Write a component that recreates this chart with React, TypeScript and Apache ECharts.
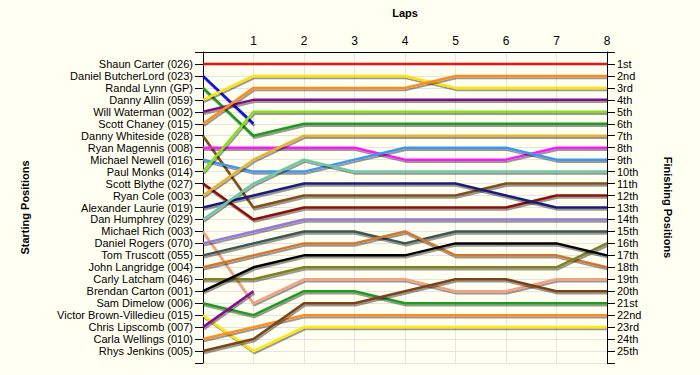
import React, { useEffect, useRef } from "react";
import * as echarts from "echarts";

const laps = [0, 1, 2, 3, 4, 5, 6, 7, 8];
const lapTickLabels = ["", "1", "2", "3", "4", "5", "6", "7", "8"];

const drivers = [
  "Shaun Carter (026)",
  "Daniel ButcherLord (023)",
  "Randal Lynn (GP)",
  "Danny Allin (059)",
  "Will Waterman (002)",
  "Scott Chaney (015)",
  "Danny Whiteside (028)",
  "Ryan Magennis (008)",
  "Michael Newell (016)",
  "Paul Monks (014)",
  "Scott Blythe (027)",
  "Ryan Cole (003)",
  "Alexander Laurie (019)",
  "Dan Humphrey (029)",
  "Michael Rich (003)",
  "Daniel Rogers (070)",
  "Tom Truscott (055)",
  "John Langridge (004)",
  "Carly Latcham (046)",
  "Brendan Carton (001)",
  "Sam Dimelow (006)",
  "Victor Brown-Villedieu (015)",
  "Chris Lipscomb (007)",
  "Carla Wellings (010)",
  "Rhys Jenkins (005)",
];

const finishLabels = [
  "1st", "2nd", "3rd", "4th", "5th", "6th", "7th", "8th", "9th", "10th",
  "11th", "12th", "13th", "14th", "15th", "16th", "17th", "18th", "19th", "20th",
  "21st", "22nd", "23rd", "24th", "25th",
];

// position of each driver at lap 0..n (retired drivers have fewer entries)
const positions: number[][] = [
  [1, 1, 1, 1, 1, 1, 1, 1, 1],
  [2, 6],
  [3, 7, 6, 6, 6, 6, 6, 6, 6],
  [4, 2, 2, 2, 2, 3, 3, 3, 3],
  [5, 4, 4, 4, 4, 4, 4, 4, 4],
  [6, 3, 3, 3, 3, 2, 2, 2, 2],
  [7, 13, 12, 12, 12, 12, 11, 11, 11],
  [8, 8, 8, 8, 9, 9, 9, 8, 8],
  [9, 10, 10, 9, 8, 8, 8, 9, 9],
  [10, 5, 5, 5, 5, 5, 5, 5, 5],
  [11, 14, 13, 13, 13, 13, 13, 12, 12],
  [12, 9, 7, 7, 7, 7, 7, 7, 7],
  [13, 12, 11, 11, 11, 11, 12, 13, 13],
  [14, 11, 9, 10, 10, 10, 10, 10, 10],
  [15, 21, 19, 19, 19, 20, 20, 19, 19],
  [16, 15, 14, 14, 14, 14, 14, 14, 14],
  [17, 16, 15, 15, 16, 15, 15, 15, 15],
  [18, 17, 16, 16, 15, 17, 17, 17, 18],
  [19, 19, 18, 18, 18, 18, 18, 18, 16],
  [20, 18, 17, 17, 17, 16, 16, 16, 17],
  [21, 22, 20, 20, 21, 21, 21, 21, 21],
  [22, 25, 23, 23, 23, 23, 23, 23, 23],
  [23, 20],
  [24, 23, 22, 22, 22, 22, 22, 22, 22],
  [25, 24, 21, 21, 20, 19, 19, 20, 20],
];

const colors = [
  "#EE1111", "#0A0AE6", "#1E9B1E", "#FFE10A", "#7F0F86",
  "#FF8A1C", "#80501A", "#FF14FF", "#3C96F0", "#86E01A",
  "#8E0A0A", "#E6B432", "#1E1E78", "#6CC8A8", "#F5A080",
  "#9678D8", "#3A5550", "#D2742E", "#80801E", "#000000",
  "#1E9B1E", "#FFE80A", "#800A90", "#FF8C1E", "#7A4214",
];

const FONT = "'Liberation Sans', Arial, sans-serif";

export default function App() {
  const ref = useRef<HTMLDivElement>(null);

  useEffect(() => {
    if (!ref.current) return;
    const chart = echarts.init(ref.current, undefined, { renderer: "svg" });

    const series = positions.map((p, i) => {
      // a perfectly flat line has a zero-height box, and an SVG filter (shadow) would hide it
      const flat = p.every((v) => v === p[0]);
      return {
        type: "line",
        name: drivers[i],
        data: p.map((pos, k) => [laps[k], pos]),
        symbol: "none",
        silent: true,
        lineStyle: flat
          ? { color: colors[i], width: 2.5 }
          : {
              color: colors[i],
              width: 2.5,
              shadowColor: "rgba(0,0,0,0.4)",
              shadowOffsetX: 1,
              shadowOffsetY: 2,
              shadowBlur: 1,
            },
        z: 3,
      };
    });

    const labelStyle = { fontFamily: FONT, fontSize: 11, lineHeight: 11, color: "#000" };

    chart.setOption({
      animation: false,
      backgroundColor: "#FFFFF2",
      grid: { left: 203, right: 93, top: 52, bottom: 12 },
      xAxis: {
        type: "value",
        position: "top",
        min: 0,
        max: 8,
        interval: 1,
        name: "Laps",
        nameLocation: "middle",
        nameGap: 34,
        nameTextStyle: { fontFamily: FONT, fontSize: 11, fontWeight: "bold", color: "#000" },
        axisLine: { show: true, lineStyle: { color: "#000", width: 1 } },
        axisTick: { show: false },
        axisLabel: {
          ...labelStyle,
          fontSize: 12,
          lineHeight: 12,
          margin: 5,
          formatter: (v: number) => lapTickLabels[v] ?? "",
        },
        splitLine: { show: true, lineStyle: { color: "#E4E4E4", width: 1 } },
      },
      yAxis: [
        {
          type: "value",
          position: "left",
          inverse: true,
          min: 0,
          max: 26,
          interval: 1,
          name: "Starting Positions",
          nameLocation: "middle",
          nameGap: 173,
          nameRotate: 90,
          nameTextStyle: { fontFamily: FONT, fontSize: 11, fontWeight: "bold", color: "#000" },
          axisLine: { show: true, lineStyle: { color: "#000", width: 1 } },
          axisTick: { show: true, length: 8, lineStyle: { color: "#000" } },
          axisLabel: {
            ...labelStyle,
            margin: 10,
            formatter: (v: number) => drivers[v - 1] ?? "",
          },
          splitLine: { show: true, lineStyle: { color: "#E4E4E4", width: 1 } },
        },
        {
          type: "value",
          position: "right",
          inverse: true,
          min: 0,
          max: 26,
          interval: 1,
          name: "Finishing Positions",
          nameLocation: "middle",
          nameGap: 55,
          nameRotate: -90,
          nameTextStyle: { fontFamily: FONT, fontSize: 11, fontWeight: "bold", color: "#000" },
          axisLine: { show: true, lineStyle: { color: "#000", width: 1 } },
          axisTick: { show: true, length: 8, lineStyle: { color: "#000" } },
          axisLabel: {
            ...labelStyle,
            margin: 10,
            formatter: (v: number) => finishLabels[v - 1] ?? "",
          },
          splitLine: { show: false },
        },
      ],
      series,
    });

    return () => chart.dispose();
  }, []);

  return (
    <div
      ref={ref}
      style={{ position: "absolute", left: 0, top: 0, width: 700, height: 375 }}
    />
  );
}
